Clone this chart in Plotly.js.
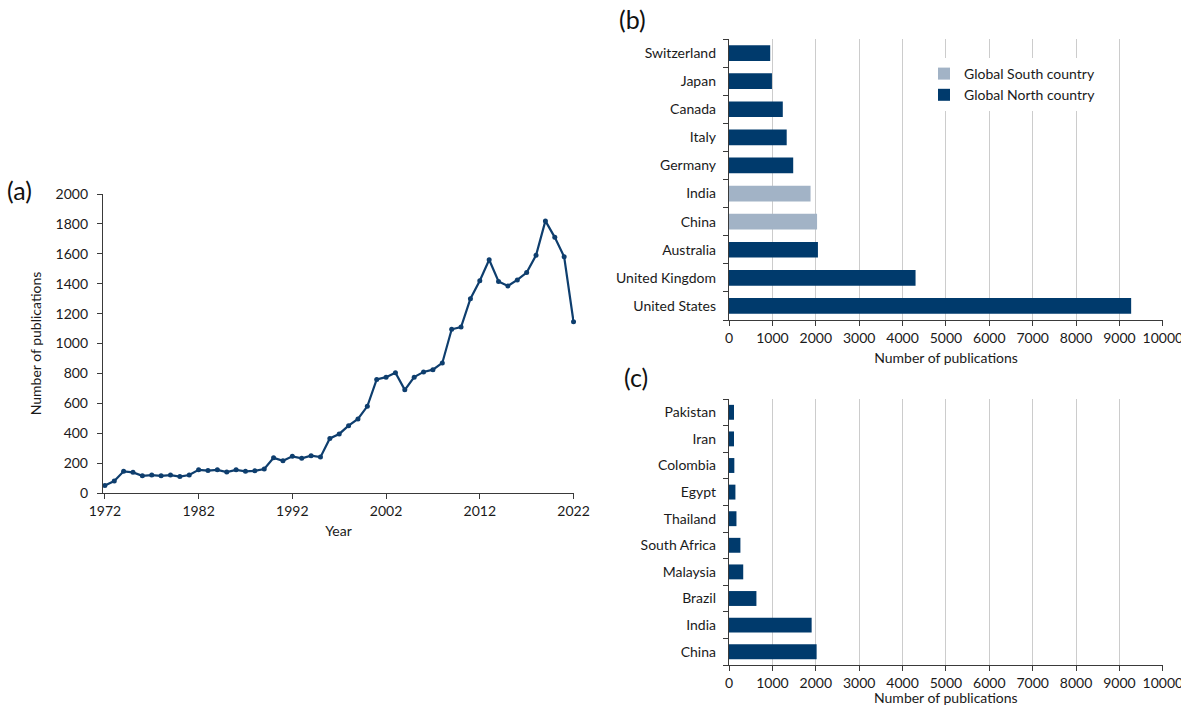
<!DOCTYPE html>
<html>
<head>
<meta charset="utf-8">
<script src="https://cdn.plot.ly/plotly-3.0.1.min.js"></script>
<style>html,body{margin:0;padding:0;background:#fff;}#chart{width:1181px;height:705px;}</style>
</head>
<body>
<div id="chart"></div>
<script>
// (a) publications per year
const years = [1972,1973,1974,1975,1976,1977,1978,1979,1980,1981,1982,1983,1984,1985,1986,1987,1988,1989,1990,1991,1992,1993,1994,1995,1996,1997,1998,1999,2000,2001,2002,2003,2004,2005,2006,2007,2008,2009,2010,2011,2012,2013,2014,2015,2016,2017,2018,2019,2020,2021,2022];
const pubs = [50,80,145,138,115,120,115,120,110,120,155,150,155,140,155,145,148,160,235,215,245,232,250,240,365,395,450,495,580,760,775,805,690,775,810,825,870,1095,1110,1300,1420,1560,1415,1385,1425,1475,1590,1820,1710,1580,1145];

// (b) top countries
const bCountries = ["United States","United Kingdom","Australia","China","India","Germany","Italy","Canada","Japan","Switzerland"];
const bValues = [9270,4300,2050,2030,1880,1480,1330,1240,990,950];
const bGroup = ["North","North","North","South","South","North","North","North","North","North"];

// (c) top Global South countries
const cCountries = ["China","India","Brazil","Malaysia","South Africa","Thailand","Egypt","Colombia","Iran","Pakistan"];
const cValues = [2020,1905,632,328,263,172,148,123,115,115];

const xTicksA = [1972,1982,1992,2002,2012,2022];
const yTicksA = [0,200,400,600,800,1000,1200,1400,1600,1800,2000];
const barTicks = [0,1000,2000,3000,4000,5000,6000,7000,8000,9000,10000];

const DARK = "#003A6C";
const LIGHT = "#A2B3C6";
const LINE = "#0E3E6E";
const AXIS = "#3a3a3a";
const FONT = "Lato, 'Open Sans', sans-serif";
const W = 1181, H = 705;
const fx = p => p / W;
const fy = p => 1 - p / H;

function pick(arr, grp, g) { return arr.filter((_, i) => grp[i] === g); }

const traces = [
  {
    type: "scatter", mode: "lines+markers", x: years, y: pubs,
    xaxis: "x", yaxis: "y", cliponaxis: false,
    line: {color: LINE, width: 2.2},
    marker: {color: LINE, size: 5},
    showlegend: false
  },
  {
    type: "bar", orientation: "h", name: "Global South country",
    y: pick(bCountries, bGroup, "South"), x: pick(bValues, bGroup, "South"),
    xaxis: "x2", yaxis: "y2", width: 0.56,
    marker: {color: LIGHT}, legendgroup: "s"
  },
  {
    type: "bar", orientation: "h", name: "Global North country",
    y: pick(bCountries, bGroup, "North"), x: pick(bValues, bGroup, "North"),
    xaxis: "x2", yaxis: "y2", width: 0.56,
    marker: {color: DARK}, legendgroup: "n"
  },
  {
    type: "bar", orientation: "h", y: cCountries, x: cValues,
    xaxis: "x3", yaxis: "y3", width: 0.56,
    marker: {color: DARK}, showlegend: false
  }
];

const tickFont = {family: FONT, size: 14, color: "#1a1a1a"};
const titleFont = {family: FONT, size: 14, color: "#1a1a1a"};

function barX(anchor, title) {
  const ax = {
    domain: [fx(729), fx(1163)], anchor: anchor,
    range: [0, 10004], tickvals: barTicks, ticktext: barTicks.map(String),
    showgrid: true, gridcolor: "#cccccc", gridwidth: 1,
    showline: true, linecolor: AXIS, linewidth: 1.2,
    ticks: "outside", ticklen: 5, tickcolor: AXIS,
    tickfont: tickFont, zeroline: false, ticklabeloverflow: "allow",
    fixedrange: true
  };
  if (title) ax.title = {text: "Number of publications", font: titleFont, standoff: 8};
  return ax;
}
function barY(domainY, anchor, cats) {
  return {
    domain: domainY, anchor: anchor,
    type: "category", categoryorder: "array", categoryarray: cats,
    showline: true, linecolor: AXIS, linewidth: 1.2,
    ticks: "outside", ticklen: 5, tickcolor: AXIS, tickson: "boundaries",
    tickfont: tickFont, ticklabelstandoff: 9, showgrid: false, zeroline: false,
    fixedrange: true
  };
}

const layout = {
  width: W, height: H,
  margin: {l: 0, r: 0, t: 0, b: 0},
  paper_bgcolor: "#fff", plot_bgcolor: "rgba(0,0,0,0)",
  font: {family: FONT, color: "#1a1a1a"},
  barmode: "overlay",
  xaxis: {
    domain: [fx(103), fx(574)], anchor: "y",
    range: [1971.8, 2022.05], tickvals: xTicksA, ticktext: xTicksA.map(String),
    showline: true, linecolor: AXIS, linewidth: 1.2,
    ticks: "outside", ticklen: 5, tickcolor: AXIS,
    tickfont: tickFont, showgrid: false, zeroline: false,
    title: {text: "Year", font: titleFont, standoff: 8}
  },
  yaxis: {
    domain: [fy(493), fy(194)], anchor: "x",
    range: [0, 2000], tickvals: yTicksA, ticktext: yTicksA.map(String),
    showline: true, linecolor: AXIS, linewidth: 1.2,
    ticks: "outside", ticklen: 5, tickcolor: AXIS,
    tickfont: tickFont, ticklabelstandoff: 6, showgrid: false, zeroline: false,
    title: {text: "Number of publications", font: titleFont, standoff: 10}
  },
  xaxis2: barX("y2", true),
  yaxis2: barY([fy(320), fy(39)], "x2", bCountries),
  xaxis3: barX("y3", false),
  yaxis3: barY([fy(665), fy(399)], "x3", cCountries),
  legend: {
    x: fx(924), y: fy(58), xanchor: "left", yanchor: "top",
    bgcolor: "#ffffff", borderwidth: 0,
    font: {family: FONT, size: 14, color: "#1a1a1a"},
    traceorder: "normal", tracegroupgap: 8, itemwidth: 30
  },
  shapes: [
    {type: "rect", xref: "paper", yref: "paper", layer: "between",
     x0: fx(923), x1: fx(1090), y0: fy(126), y1: fy(40),
     fillcolor: "#ffffff", line: {width: 0}}
  ],
  annotations: [
    {text: "(a)", x: fx(5), y: fy(190), xref: "paper", yref: "paper", xanchor: "left", yanchor: "middle", showarrow: false, font: {family: FONT, size: 25, color: "#111"}},
    {text: "(b)", x: fx(617), y: fy(19), xref: "paper", yref: "paper", xanchor: "left", yanchor: "middle", showarrow: false, font: {family: FONT, size: 25, color: "#111"}},
    {text: "(c)", x: fx(622), y: fy(377), xref: "paper", yref: "paper", xanchor: "left", yanchor: "middle", showarrow: false, font: {family: FONT, size: 25, color: "#111"}},
    {text: "Number of publications", x: fx(946), y: 0, xref: "paper", yref: "paper", xanchor: "center", yanchor: "bottom", yshift: -3, showarrow: false, font: titleFont}
  ]
};

Plotly.newPlot("chart", traces, layout, {staticPlot: true, displayModeBar: false});
</script>
</body>
</html>
